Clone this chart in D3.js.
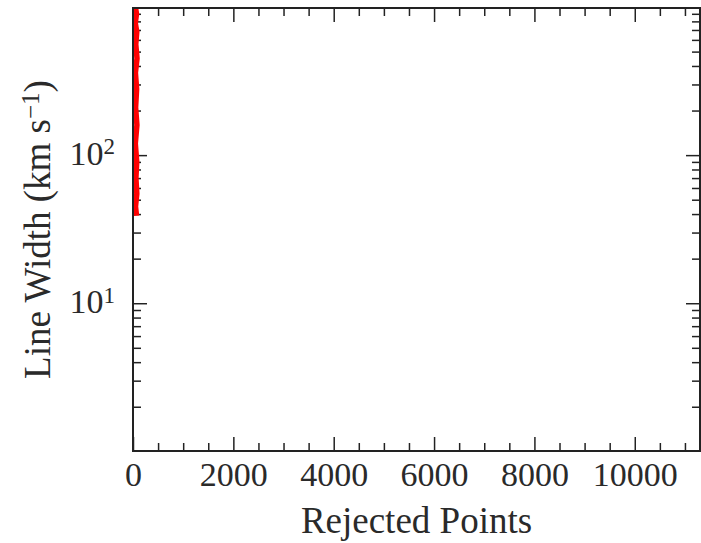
<!DOCTYPE html>
<html>
<head>
<meta charset="utf-8">
<script src="https://cdn.jsdelivr.net/npm/d3@7"></script>
<style>
  html, body { margin: 0; padding: 0; background: #fff; }
  svg text { font-family: "Liberation Serif", "Times New Roman", serif; fill: #2a2a2a; }
</style>
</head>
<body>
<div id="svg-container"></div>
<script>
// data
const rejectedPoints = [50, 70, 45, 75, 55, 80, 48, 72, 52, 78, 46, 74, 58, 76, 50, 70];
const lineWidths = [985, 900, 780, 680, 560, 450, 360, 280, 210, 160, 120, 90, 70, 55, 45, 39];
const xTickValues = [0, 2000, 4000, 6000, 8000, 10000];
const yTickValues = [10, 100];

const width = 701;
const height = 543;
const margin = { top: 8, right: 1, bottom: 92, left: 133 };

const svg = d3.select("#svg-container").append("svg")
  .attr("width", width).attr("height", height);

const xScale = d3.scaleLinear().domain([0, 11300]).range([margin.left, width - margin.right]);
const yScale = d3.scaleLog().domain([1.005, 985]).range([height - margin.bottom, margin.top]);

const x0 = margin.left, x1 = width - margin.right;
const y0 = height - margin.bottom, y1 = margin.top;

// minor ticks
const xMinor = d3.range(0, 11300, 500).filter((v) => v % 2000 !== 0);
const yMinor = [];
[1, 10, 100].forEach((d) => d3.range(2, 10).forEach((k) => { if (d * k < 985) yMinor.push(d * k); }));

function styleAxis(g) {
  g.select(".domain").remove();
  g.selectAll("line").attr("stroke", "#222").attr("stroke-width", 1.5);
}

svg.append("g").attr("transform", `translate(0,${y0})`)
  .call(d3.axisBottom(xScale).tickValues(xMinor).tickSize(-8).tickFormat("")).call(styleAxis);
svg.append("g").attr("transform", `translate(0,${y1})`)
  .call(d3.axisTop(xScale).tickValues(xMinor).tickSize(-8).tickFormat("")).call(styleAxis);
svg.append("g").attr("transform", `translate(0,${y1})`)
  .call(d3.axisTop(xScale).tickValues(xTickValues).tickSize(-14).tickFormat("")).call(styleAxis);
const xAxis = svg.append("g").attr("transform", `translate(0,${y0})`)
  .call(d3.axisBottom(xScale).tickValues(xTickValues).tickSize(-14).tickPadding(11).tickFormat(d3.format("d")))
  .call(styleAxis);
xAxis.selectAll("text").attr("font-size", 34).attr("fill", "#2a2a2a");

svg.append("g").attr("transform", `translate(${x0},0)`)
  .call(d3.axisLeft(yScale).tickValues(yMinor).tickSize(-8).tickFormat("")).call(styleAxis);
svg.append("g").attr("transform", `translate(${x1},0)`)
  .call(d3.axisRight(yScale).tickValues(yMinor).tickSize(-8).tickFormat("")).call(styleAxis);
svg.append("g").attr("transform", `translate(${x1},0)`)
  .call(d3.axisRight(yScale).tickValues(yTickValues).tickSize(-14).tickFormat("")).call(styleAxis);
const yAxis = svg.append("g").attr("transform", `translate(${x0},0)`)
  .call(d3.axisLeft(yScale).tickValues(yTickValues).tickSize(-14).tickFormat("")).call(styleAxis);

// 10^n labels with superscript
yAxis.selectAll(".tick").each(function (d) {
  const t = d3.select(this).append("text")
    .attr("x", -18).attr("y", 0).attr("dy", "0.27em")
    .attr("text-anchor", "end").attr("font-size", 34).attr("fill", "#2a2a2a");
  t.append("tspan").text("10");
  t.append("tspan").attr("dy", "-0.45em").attr("font-size", 23).text(Math.round(Math.log10(d)));
});

// data
svg.append("clipPath").attr("id", "plot-clip")
  .append("rect").attr("x", x0).attr("y", y1).attr("width", x1 - x0).attr("height", y0 - y1);

const data = rejectedPoints.map((r, i) => ({ r, w: lineWidths[i] }));
const lineGenerator = d3.line().x((d) => xScale(d.r)).y((d) => yScale(d.w));

svg.append("path")
  .datum(data)
  .attr("clip-path", "url(#plot-clip)")
  .attr("d", lineGenerator)
  .attr("fill", "none")
  .attr("stroke", "#ff0000")
  .attr("stroke-width", 5.5);

// frame
svg.append("rect")
  .attr("x", x0).attr("y", y1).attr("width", x1 - x0).attr("height", y0 - y1)
  .attr("fill", "none").attr("stroke", "#222").attr("stroke-width", 2);

// axis titles
svg.append("text")
  .attr("x", (x0 + x1) / 2).attr("y", 533)
  .attr("text-anchor", "middle").attr("font-size", 37)
  .text("Rejected Points");

const yTitle = svg.append("text")
  .attr("transform", `translate(50,${(y0 + y1) / 2}) rotate(-90)`)
  .attr("text-anchor", "middle").attr("font-size", 37);
yTitle.append("tspan").text("Line Width (km s");
yTitle.append("tspan").attr("dy", "-0.45em").attr("font-size", 25).text("\u22121");
yTitle.append("tspan").attr("dy", "0.3em").text(")");
</script>
</body>
</html>
